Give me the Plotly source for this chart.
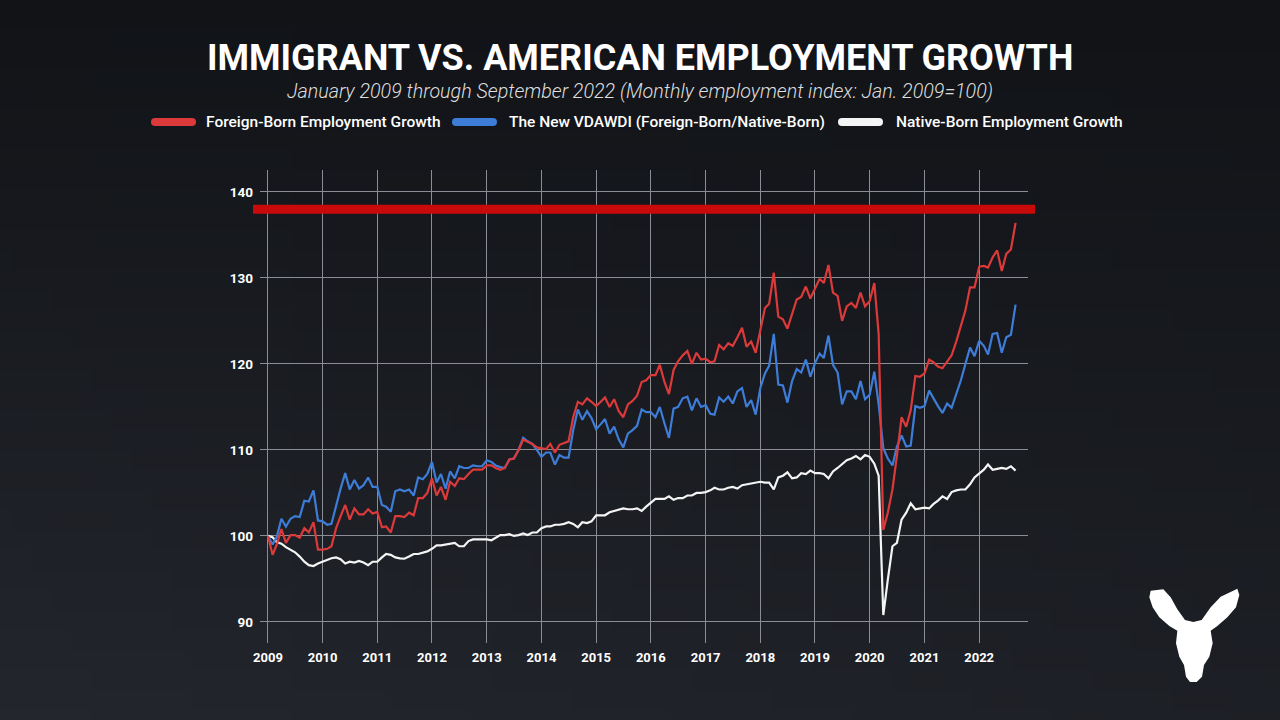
import base64
import struct
import zlib

import pandas as pd
import plotly.graph_objects as go

# ---------------- data (monthly index, Jan 2009 = 100) ----------------
start_month = "2009-01-01"
n_months = 165  # Jan 2009 .. Sep 2022

foreign_born = [
    100.0, 97.8, 99.0, 100.8, 99.2, 100.1, 100.1, 99.8, 100.9, 100.4, 101.6, 98.4,
    98.4, 98.5, 98.8, 100.9, 102.3, 103.6, 101.9, 103.2, 102.5, 102.5, 103.1, 102.6,
    102.8, 101.0, 101.1, 100.4, 102.3, 102.3, 102.2, 102.7, 102.4, 104.4, 104.4, 105.0,
    106.7, 104.7, 105.7, 104.2, 106.3, 105.8, 106.7, 106.6, 107.2, 107.7, 107.7, 107.7,
    108.2, 108.2, 107.9, 107.7, 107.9, 108.9, 109.0, 110.0, 111.2, 111.0, 110.7, 110.3,
    110.2, 110.1, 110.7, 109.7, 110.6, 110.8, 111.0, 113.8, 115.6, 115.3, 116.0, 115.6,
    115.1, 115.6, 116.1, 115.0, 115.9, 114.5, 113.8, 115.3, 115.7, 116.3, 117.9, 118.1,
    118.7, 118.7, 119.9, 117.9, 116.5, 119.3, 120.3, 121.0, 121.5, 120.0, 121.3, 120.5,
    120.6, 120.2, 120.3, 122.2, 121.7, 122.4, 122.1, 123.1, 124.2, 122.0, 122.6, 121.3,
    123.9, 126.5, 127.0, 130.6, 125.5, 125.2, 124.1, 125.9, 127.5, 127.8, 129.0, 127.6,
    128.8, 129.9, 129.4, 131.5, 128.3, 127.9, 125.0, 126.7, 127.1, 126.5, 128.3, 126.7,
    127.3, 129.4, 123.5, 100.7, 102.7, 105.4, 109.3, 113.8, 112.7, 114.6, 118.6, 118.5,
    118.9, 120.5, 120.2, 119.7, 119.5, 120.2, 121.0, 122.6, 124.3, 126.2, 128.9, 128.9,
    131.3, 131.4, 131.2, 132.4, 133.2, 130.8, 132.8, 133.3, 136.4,
]

vdawdi_ratio = [
    100.0, 99.0, 99.9, 102.0, 101.1, 102.0, 102.3, 102.2, 104.1, 104.0, 105.3, 101.8,
    101.7, 101.3, 101.4, 103.6, 105.5, 107.3, 105.4, 106.5, 105.5, 105.9, 106.8, 105.7,
    105.7, 103.6, 103.4, 102.8, 105.2, 105.4, 105.2, 105.4, 104.7, 106.8, 106.6, 107.2,
    108.6, 106.2, 107.2, 105.5, 107.5, 106.7, 108.1, 107.9, 107.9, 108.2, 108.1, 108.1,
    108.8, 108.6, 108.2, 108.0, 107.9, 108.9, 109.0, 110.0, 111.4, 111.0, 110.7, 110.0,
    109.2, 109.7, 109.7, 108.3, 109.4, 109.1, 109.1, 112.3, 114.7, 113.5, 114.5, 113.7,
    112.4, 113.0, 113.6, 111.9, 112.7, 111.2, 110.3, 111.9, 112.3, 112.8, 114.7, 114.4,
    114.4, 113.8, 115.0, 113.1, 111.4, 114.8, 115.0, 116.0, 116.2, 114.6, 116.0, 115.0,
    115.2, 114.2, 114.1, 116.1, 115.6, 116.2, 115.4, 116.8, 117.2, 115.0, 115.8, 114.1,
    117.2, 118.9, 119.8, 123.5, 117.6, 117.5, 115.5, 118.0, 119.4, 119.0, 120.5, 118.5,
    120.1, 121.2, 120.7, 123.3, 119.9, 119.0, 115.3, 116.8, 116.8, 115.9, 118.0, 115.9,
    116.4, 119.1, 115.3, 110.2, 109.0, 108.2, 110.4, 111.7, 110.4, 110.5, 115.1, 114.9,
    115.1, 116.9, 116.0, 115.1, 114.3, 115.4, 114.9, 116.5, 118.1, 120.0, 121.9, 120.9,
    122.7, 122.1, 121.1, 123.5, 123.6, 121.3, 123.1, 123.4, 126.9,
]

native_born = [
    100.0, 99.85, 99.3, 99.1, 98.7, 98.4, 98.1, 97.6, 97.0, 96.6, 96.5, 96.8,
    97.0, 97.2, 97.4, 97.5, 97.3, 96.8, 97.0, 96.9, 97.1, 96.9, 96.6, 97.0,
    97.0, 97.5, 97.9, 97.8, 97.5, 97.4, 97.35, 97.6, 97.9, 97.9, 98.05, 98.2,
    98.5, 98.9, 98.9, 99.0, 99.1, 99.2, 98.8, 98.8, 99.4, 99.6, 99.6, 99.6,
    99.6, 99.5, 99.8, 100.1, 100.1, 100.2, 100.0, 100.1, 100.3, 100.1, 100.4, 100.4,
    100.9, 101.1, 101.1, 101.3, 101.3, 101.4, 101.6, 101.4, 101.0, 101.6, 101.5, 101.7,
    102.4, 102.4, 102.4, 102.75, 102.9, 103.0, 103.2, 103.1, 103.1, 103.2, 102.9, 103.4,
    103.9, 104.3, 104.3, 104.3, 104.6, 104.2, 104.4, 104.4, 104.7, 104.7, 105.0, 105.0,
    105.1, 105.3, 105.6, 105.4, 105.4, 105.6, 105.7, 105.5, 105.9, 106.0, 106.1, 106.2,
    106.3, 106.2, 106.2, 105.4, 106.8, 107.0, 107.4, 106.7, 106.8, 107.3, 107.2, 107.6,
    107.3, 107.3, 107.2, 106.7, 107.5, 107.9, 108.4, 108.8, 109.0, 109.3, 108.9, 109.4,
    109.2, 108.4, 107.0, 90.8, 94.9, 98.8, 99.2, 101.9, 102.7, 103.8, 103.1, 103.2,
    103.3, 103.2, 103.7, 104.1, 104.6, 104.3, 105.1, 105.3, 105.4, 105.4, 106.0, 106.8,
    107.3, 107.7, 108.3, 107.7, 107.8, 107.9, 107.8, 108.1, 107.6,
]

series_names = [
    "Foreign-Born Employment Growth",
    "The New VDAWDI (Foreign-Born/Native-Born)",
    "Native-Born Employment Growth",
]
series_colors = ["#dc3a3a", "#3d7dd8", "#f4f4f4"]

year_ticks = list(range(2009, 2023))
y_ticks = [90, 100, 110, 120, 130, 140]
threshold_level = 138

title_text = "IMMIGRANT VS. AMERICAN EMPLOYMENT GROWTH"
subtitle_text = "January 2009 through September 2022 (Monthly employment index: Jan. 2009=100)"

months = pd.date_range(start_month, periods=n_months, freq="MS")

# ---------------- layout geometry (pixels) ----------------
W, H = 1280, 720
PL, PR, PT, PB = 260, 1028, 170, 643  # plot area edges
PW, PH = PR - PL, PB - PT


def px(xpix):
    return (xpix - PL) / PW


def py(ypix):
    return (PB - ypix) / PH


def gradient_png(w, h):
    rows = []
    for j in range(h):
        t = j / (h - 1)
        row = bytearray([0])
        for i in range(w):
            s = i / (w - 1)
            k = t * (1.0 - 0.35 * s)
            c = (17 + 18 * k, 19 + 19 * k, 23 + 22 * k)
            row += bytes(int(round(v)) for v in c)
        rows.append(bytes(row))
    raw = b"".join(rows)

    def chunk(tag, data):
        return (struct.pack(">I", len(data)) + tag + data
                + struct.pack(">I", zlib.crc32(tag + data) & 0xFFFFFFFF))

    png = (b"\x89PNG\r\n\x1a\n"
           + chunk(b"IHDR", struct.pack(">IIBBBBB", w, h, 8, 2, 0, 0, 0))
           + chunk(b"IDAT", zlib.compress(raw))
           + chunk(b"IEND", b""))
    return "data:image/png;base64," + base64.b64encode(png).decode()


fig = go.Figure()

# draw order: native, ratio, foreign
for idx in [2, 1, 0]:
    vals = [foreign_born, vdawdi_ratio, native_born][idx]
    fig.add_trace(go.Scatter(
        x=months, y=vals, mode="lines", name=series_names[idx],
        line=dict(color=series_colors[idx], width=2.2),
        showlegend=False,
        hovertemplate="%{x|%b %Y}: %{y:.1f}<extra>" + series_names[idx] + "</extra>",
    ))

shapes = []
# threshold bar
shapes.append(dict(type="line", xref="paper", yref="y",
                   x0=px(253), x1=px(1035), y0=threshold_level, y1=threshold_level,
                   line=dict(color="#c80a0a", width=9), layer="above"))


def pill(x0, x1, yc, r, color):
    pts = [
        f"M{px(x0 + r)},{py(yc - r)}",
        f"L{px(x1 - r)},{py(yc - r)}",
        f"Q{px(x1)},{py(yc - r)} {px(x1)},{py(yc)}",
        f"Q{px(x1)},{py(yc + r)} {px(x1 - r)},{py(yc + r)}",
        f"L{px(x0 + r)},{py(yc + r)}",
        f"Q{px(x0)},{py(yc + r)} {px(x0)},{py(yc)}",
        f"Q{px(x0)},{py(yc - r)} {px(x0 + r)},{py(yc - r)}",
        "Z",
    ]
    return dict(type="path", xref="paper", yref="paper", path=" ".join(pts),
                fillcolor=color, line=dict(width=0), layer="above")


legend_y = 122
swatches = [(151, 196, 204), (452, 497, 507), (838, 883, 894)]
annotations = []
for (sx0, sx1, tx), name, color in zip(swatches, series_names, series_colors):
    shapes.append(pill(sx0, sx1, legend_y, 4, color))
    annotations.append(dict(
        xref="paper", yref="paper", x=px(tx), y=py(legend_y),
        xanchor="left", yanchor="middle", showarrow=False, text=name,
        font=dict(family="Roboto", size=15.5, color="#ffffff", weight=500),
    ))

annotations.append(dict(
    xref="paper", yref="paper", x=px(640), y=py(58), xanchor="center", yanchor="middle",
    showarrow=False, text=title_text,
    font=dict(family="Roboto", size=36, color="#ffffff", weight=700),
))
annotations.append(dict(
    xref="paper", yref="paper", x=px(640), y=py(92), xanchor="center", yanchor="middle",
    showarrow=False, text=subtitle_text,
    font=dict(family="Roboto", size=19.7, color="#dedede", weight=300, style="italic"),
))

# deer-head logo (silhouette)
deer = [(62, 32), (100, 28), (122, 52), (142, 88), (165, 120), (190, 126), (215, 120),
        (242, 82), (272, 50), (322, 26), (328, 45), (318, 82), (292, 112), (262, 138),
        (242, 152), (248, 190), (238, 230), (222, 255), (216, 290), (200, 306),
        (180, 306), (168, 290), (162, 255), (148, 230), (138, 190), (142, 152),
        (118, 138), (88, 112), (68, 82), (58, 52)]
dpath = []
for k, (zx, zy) in enumerate(deer):
    X = 1130 + zx / 3
    Y = 580 + zy / 3
    dpath.append(("M" if k == 0 else "L") + f"{px(X)},{py(Y)}")
dpath.append("Z")
shapes.append(dict(type="path", xref="paper", yref="paper", path=" ".join(dpath),
                   fillcolor="#ffffff", line=dict(width=0), layer="above"))

fig.update_layout(
    width=W, height=H,
    margin=dict(l=PL, r=W - PR, t=PT, b=H - PB, pad=0),
    paper_bgcolor="#16181d",
    plot_bgcolor="rgba(0,0,0,0)",
    showlegend=False,
    shapes=shapes,
    annotations=annotations,
    images=[dict(source=gradient_png(64, 36), xref="paper", yref="paper",
                 x=px(0), y=py(0), sizex=W / PW, sizey=H / PH,
                 xanchor="left", yanchor="top", sizing="stretch", layer="below")],
    font=dict(family="Roboto", color="#ffffff"),
)

fig.update_xaxes(
    type="date",
    range=[pd.Timestamp("2009-01-01") - pd.Timedelta(days=53),
           pd.Timestamp("2022-11-23")],
    tickvals=[pd.Timestamp(f"{y}-01-01") for y in year_ticks],
    ticktext=[str(y) for y in year_ticks],
    showgrid=True, gridcolor="#8a8d93", gridwidth=1.2,
    zeroline=False, showline=False, ticks="",
    ticklabelstandoff=5,
    tickfont=dict(family="Roboto", size=13, color="#ffffff", weight=700),
)
fig.update_yaxes(
    range=[87.55, 142.55],
    tickvals=y_ticks,
    showgrid=True, gridcolor="#8a8d93", gridwidth=1.2,
    zeroline=False, showline=False, ticks="",
    ticklabelstandoff=6,
    tickfont=dict(family="Roboto", size=13.5, color="#ffffff", weight=700),
)

fig.write_html("out.html", config={"displayModeBar": False},
               post_script="document.body.style.margin='0';")
